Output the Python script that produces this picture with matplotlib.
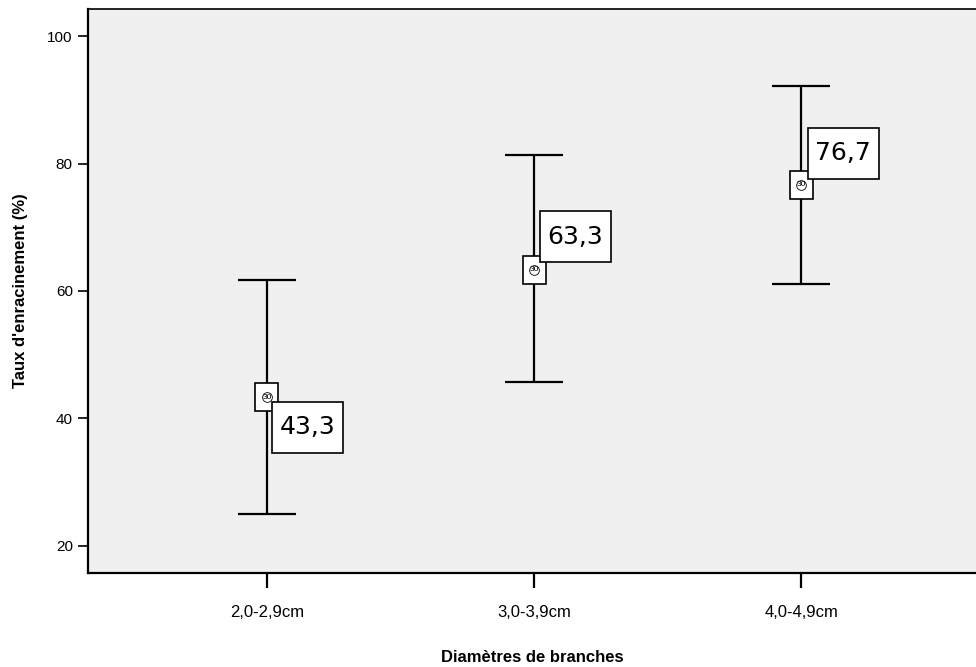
import numpy as np
import matplotlib.pyplot as plt
import matplotlib.transforms as mtransforms
from matplotlib.patches import Rectangle

plt.rcParams['font.family'] = ['Liberation Sans', 'DejaVu Sans']

# data
categories = ["2,0-2,9cm", "3,0-3,9cm", "4,0-4,9cm"]
means = [43.3, 63.3, 76.7]
lower = [25.0, 45.7, 61.1]
upper = [61.7, 81.3, 92.1]
mean_labels = ["43,3", "63,3", "76,7"]
n_counts = ["30", "30", "30"]
y_ticks = [20, 40, 60, 80, 100]

fig = plt.figure(figsize=(9.76, 6.67), dpi=100)
ax = fig.add_axes([0.0902, 0.141, 0.9098, 0.8455])
ax.set_facecolor('#f0f0f0')

x = np.arange(len(categories))
means_arr = np.array(means)
yerr = [means_arr - np.array(lower), np.array(upper) - means_arr]

ax.errorbar(x, means, yerr=yerr, fmt='none', ecolor='black', elinewidth=1.6,
            capsize=21, capthick=1.6, zorder=2)

# label box centre offsets from the mean, in inches
offsets = [(0.405, -0.30), (0.415, 0.33), (0.42, 0.315)]

for xi, m, n, lab, off in zip(x, means, n_counts, mean_labels, offsets):
    # transform in inches anchored at the data point
    tr = fig.dpi_scale_trans + mtransforms.ScaledTranslation(xi, m, ax.transData)
    # small box at the mean with count
    ax.add_patch(Rectangle((-0.115, -0.14), 0.23, 0.28, transform=tr,
                           facecolor='white', edgecolor='black', linewidth=1.2, zorder=3))
    ax.plot(xi, m, marker='o', markersize=7, markerfacecolor='none',
            markeredgecolor='black', markeredgewidth=0.6, zorder=4)
    ax.text(0, 0, n, transform=tr, fontsize=6, ha='center', va='center', zorder=5)
    # value label box
    ax.add_patch(Rectangle((off[0] - 0.355, off[1] - 0.255), 0.71, 0.51, transform=tr,
                           facecolor='white', edgecolor='black', linewidth=1.2, zorder=6))
    ax.text(off[0], off[1], lab, transform=tr, fontsize=18, ha='center', va='center',
            family=['DejaVu Sans'], zorder=7)

ax.set_xlim(-0.67, 2.655)
ax.set_ylim(15.76, 104.24)
ax.set_xticks(x)
ax.set_xticklabels(categories, fontsize=12)
ax.set_yticks(y_ticks)
ax.set_yticklabels([str(t) for t in y_ticks], fontsize=11)
ax.tick_params(axis='x', length=11, width=1.6, pad=12)
ax.tick_params(axis='y', length=7, width=1.2, pad=4)

ax.spines['right'].set_visible(False)
ax.spines['left'].set_linewidth(1.6)
ax.spines['bottom'].set_linewidth(1.6)
ax.spines['top'].set_linewidth(1.2)

ax.set_ylabel("Taux d'enracinement (%)", fontsize=12, fontweight='bold', labelpad=14)
ax.set_xlabel("Diamètres de branches", fontsize=12, fontweight='bold', labelpad=22)

fig.savefig('out.png', dpi=100)
